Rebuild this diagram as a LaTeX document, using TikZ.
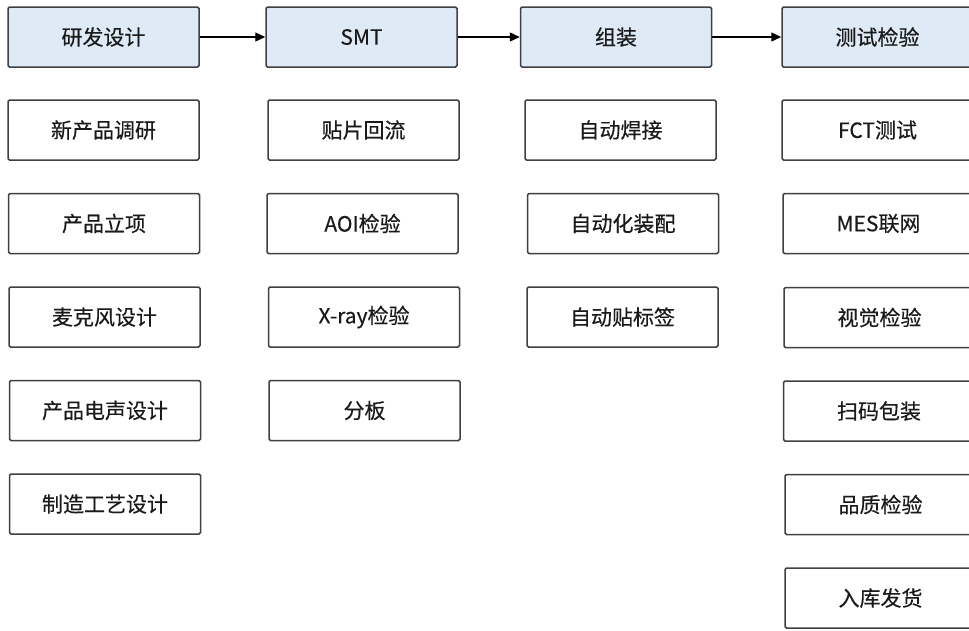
\documentclass[tikz,border=0pt]{standalone}
\usepackage{fontspec}
\setmainfont{Noto Sans CJK SC}
\newfontfamily\boxfont[FakeBold=0.35]{Noto Sans CJK SC}
\usetikzlibrary{arrows.meta}
\definecolor{hdrfill}{HTML}{DEEAF6}
\definecolor{edge}{HTML}{404040}
\definecolor{txt}{HTML}{1A1A1A}
\tikzset{
  box/.style={draw=edge, line width=1.5pt, rounded corners=1.5pt, fill=white,
    minimum width=191pt, minimum height=60pt, inner sep=0pt, text=txt,
    font=\boxfont\fontsize{21pt}{24pt}\selectfont},
  hdr/.style={box, fill=hdrfill},
  flow/.style={draw=black, line width=1.3pt, -{Triangle[length=10pt,width=9pt]}}
}
\begin{document}
\begin{tikzpicture}[x=1pt,y=-1pt]
\useasboundingbox (0,0) rectangle (969,630);
\begin{scope}
\clip (0,0) rectangle (969,630);
% headers
\node[hdr] (h1) at (103.5,37) {研发设计};
\node[hdr] (h2) at (361.5,37) {SMT};
\node[hdr] (h3) at (616,37) {组装};
\node[hdr] (h4) at (877.5,37) {测试检验};
% column 1
\node[box] (a1) at (103.5,130) {新产品调研};
\node[box] (a2) at (104,223.5) {产品立项};
\node[box] (a3) at (104.5,317) {麦克风设计};
\node[box] (a4) at (105,410.5) {产品电声设计};
\node[box] (a5) at (105,504) {制造工艺设计};
% column 2
\node[box] (b1) at (363.5,130) {贴片回流};
\node[box] (b2) at (362.5,223.5) {AOI检验};
\node[box] (b3) at (364,317) {X-ray检验};
\node[box] (b4) at (364.5,410.5) {分板};
% column 3
\node[box] (c1) at (620.5,130) {自动焊接};
\node[box] (c2) at (623,223.5) {自动化装配};
\node[box] (c3) at (622.5,317) {自动贴标签};
% column 4
\node[box] (d1) at (877.5,130) {FCT测试};
\node[box] (d2) at (878.5,223.5) {MES联网};
\node[box] (d3) at (879.5,317.5) {视觉检验};
\node[box] (d4) at (879,411) {扫码包装};
\node[box] (d5) at (880.5,504.5) {品质检验};
\node[box] (d6) at (880.5,598) {入库发货};
% flow
\draw[flow] (h1) -- (h2);
\draw[flow] (h2) -- (h3);
\draw[flow] (h3) -- (h4);
\end{scope}
\end{tikzpicture}
\end{document}
